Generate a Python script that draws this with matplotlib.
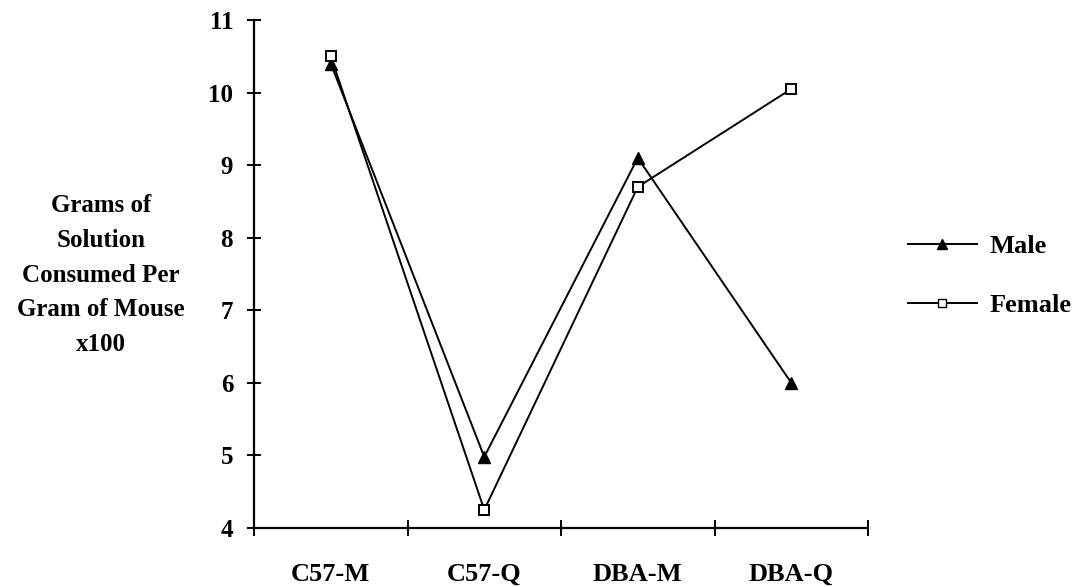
import matplotlib.pyplot as plt
from matplotlib.lines import Line2D

# Data
categories = ['C57-M', 'C57-Q', 'DBA-M', 'DBA-Q']
male = [10.40, 4.98, 9.10, 6.00]
female = [10.50, 4.25, 8.70, 10.05]

plt.rcParams['font.family'] = 'Liberation Serif'
plt.rcParams['font.weight'] = 'bold'

fig = plt.figure(figsize=(10.86, 5.87), dpi=100)
ax = fig.add_axes([0.2339, 0.1005, 0.5654, 0.8654])

x = range(len(categories))
ax.plot(x, male, color='black', lw=1.4, marker='^', ms=8,
        markerfacecolor='black', markeredgecolor='black')
ax.plot(x, female, color='black', lw=1.4, marker='s', ms=7,
        markerfacecolor='white', markeredgecolor='black', markeredgewidth=1.4)

ax.set_xlim(-0.5, len(categories) - 0.5)
ax.set_ylim(4, 11)
ax.set_yticks(range(4, 12))
ax.tick_params(axis='y', direction='inout', length=10, width=1.4,
               labelsize=18, pad=10)

# boundary ticks on x, labels at category centres
ax.set_xticks([i - 0.5 for i in range(len(categories) + 1)])
ax.set_xticklabels([])
ax.set_xticks(list(x), minor=True)
ax.set_xticklabels(categories, minor=True, fontsize=19, fontweight='bold')
ax.tick_params(axis='x', which='major', direction='inout', length=12, width=1.4)
ax.tick_params(axis='x', which='minor', length=0, pad=25)

for s in ['top', 'right']:
    ax.spines[s].set_visible(False)
for s in ['left', 'bottom']:
    ax.spines[s].set_linewidth(1.6)

# y label as horizontal multi-line text
fig.text(101 / 1086, 1 - 275 / 587,
         'Grams of\nSolution\nConsumed Per\nGram of Mouse\nx100',
         ha='center', va='center', fontsize=18, fontweight='bold',
         linespacing=1.66)

handles = [
    Line2D([], [], color='black', lw=1.4, marker='^', ms=7,
           markerfacecolor='black'),
    Line2D([], [], color='black', lw=1.4, marker='s', ms=6,
           markerfacecolor='white'),
]
fig.legend(handles, ['Male', 'Female'], loc='center left',
           bbox_to_anchor=(908 / 1086, 1 - 276 / 587), frameon=False,
           borderaxespad=0, borderpad=0, handlelength=2.6,
           handletextpad=0.5, labelspacing=1.35,
           prop={'weight': 'bold', 'size': 19})

fig.savefig('out.png', dpi=100)
